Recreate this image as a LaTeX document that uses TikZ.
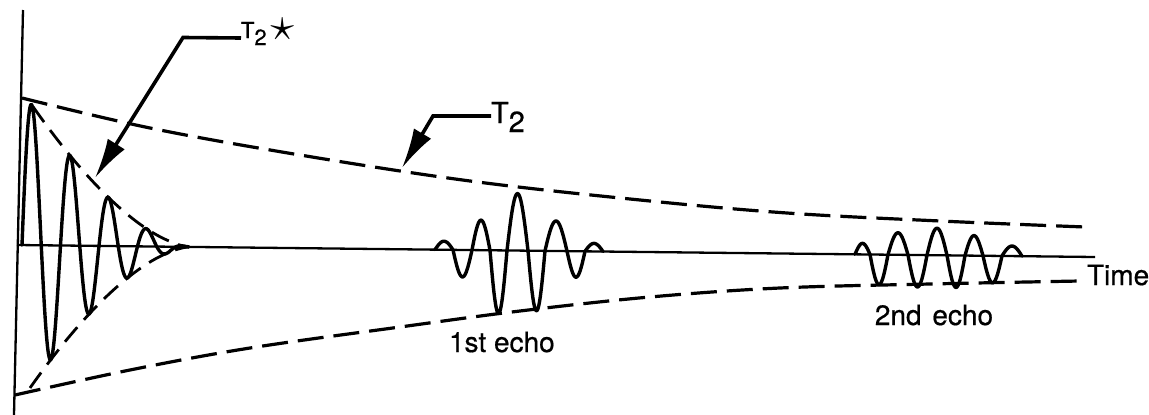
\documentclass[tikz,border=0pt]{standalone}
\usepackage{fontspec}
\usepackage{graphicx}
\setmainfont{TeX Gyre Heros}[FakeBold=0.6]
\usetikzlibrary{arrows.meta}
\tikzset{
  wave/.style={line width=3.4pt, line cap=round, line join=round},
  axisline/.style={line width=2.3pt},
  env/.style={line width=3.2pt, dash pattern=on 26pt off 10pt},
  envs/.style={line width=2.8pt, dash pattern=on 19pt off 10pt},
  leader/.style={line width=3.6pt, -{Latex[length=40pt,width=20pt]}},
  lbl/.style={inner sep=0pt, outer sep=0pt, font=\fontsize{28}{30}\selectfont}
}
\begin{document}
\begin{tikzpicture}[x=1pt,y=-1pt]
\useasboundingbox (0,0) rectangle (1149,415);
% axes
\coordinate (vtop) at (23,10);
\coordinate (vbot) at (14,415);
\coordinate (hl) at (17,245);
\coordinate (hr) at (1095,257);
\draw[axisline] (vtop) -- (vbot);
\draw[axisline] (hl) -- (hr);
% T2 envelopes
\draw[env] plot[smooth, tension=0.6] coordinates {(22,98) (150,128) (300,155) (470,181) (640,200) (787,213) (940,221) (1085,227)};
\draw[env] plot[smooth, tension=0.6] coordinates {(15,395) (130,370) (250,348) (400,327) (520,311) (650,297) (780,288) (930,284) (1080,281)};
% T2* envelopes
\draw[envs] plot[domain=33:189, samples=80] (\x,{245+0.0111*(\x-17)-150*exp(1.6*ln((190-\x)/165))});
\draw[envs] plot[domain=30:189, samples=80] (\x,{245+0.0111*(\x-17)+150*exp(1.6*ln((190-\x)/165))});
% FID
\draw[wave] plot[domain=22:189, samples=400] (\x,{245+0.0111*(\x-17)-150*exp(1.6*ln((190-\x)/165))*sin(9.3506*(\x-22))});
% first echo
\foreach \a/\b/\h in {435/453/8.5, 453/472/-27, 472/490/30, 490/507/-63, 507/528/57, 528/545/-60, 545/567/30, 567/585/-26, 585/603/8}
  \draw[wave] plot[domain=\a:\b, samples=30] (\x,{245+0.0111*(\x-17)-\h*sin(180*(\x-\a)/(\b-\a))});
% second echo
\foreach \a/\b/\h in {855/870/11, 870/888/-30, 888/908/22, 908/927/-32, 927/947/27, 947/965/-32, 965/983/20, 983/1002/-27, 1002/1022/10}
  \draw[wave] plot[domain=\a:\b, samples=30] (\x,{245+0.0111*(\x-17)-\h*sin(180*(\x-\a)/(\b-\a))});
% labels
\node[lbl, anchor=base west] (echo1) at (449,352) {1st echo};
\node[lbl, anchor=base] (echo2) at (934,325) {2nd\hspace{3pt} echo};
\node[lbl, anchor=base west] (time) at (1087,285) {Time};
\node[lbl, anchor=base west, font=\fontsize{22}{24}\selectfont] (t2s) at (241,38) {T\raisebox{-7pt}{2}\hspace{4pt}\raisebox{-2pt}{\scalebox{2.3}{$\star$}}};
\node[lbl, anchor=base west, font=\fontsize{29}{30}\selectfont] (t2) at (491,123) {T\raisebox{-9pt}{2}};
% leaders
\coordinate (b1) at (183,37.5);
\coordinate (tip1) at (95,178);
\coordinate (b2) at (433,116);
\coordinate (tip2) at (402,168);
\draw[leader] (t2s.base west) -- (b1) -- (tip1);
\draw[leader] ([yshift=7pt]t2.base west) -- (b2) -- (tip2);
\end{tikzpicture}
\end{document}
